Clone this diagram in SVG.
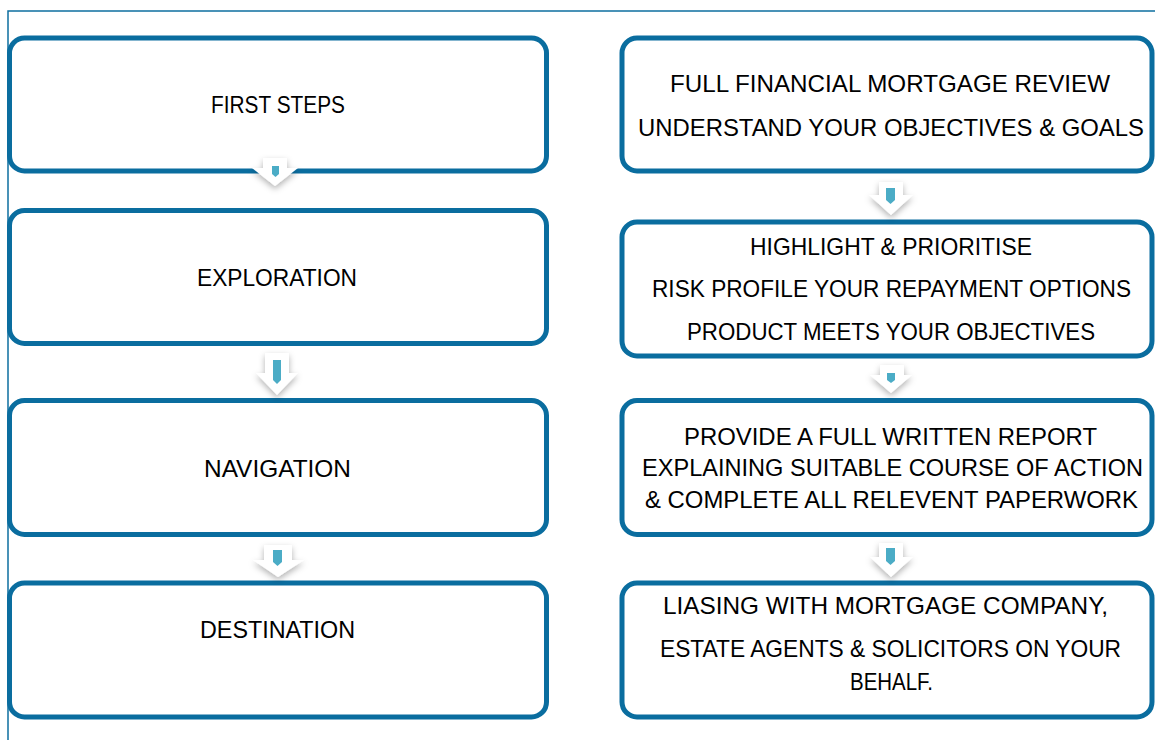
<svg xmlns="http://www.w3.org/2000/svg" width="1155" height="740" viewBox="0 0 1155 740">
  <style>
    .box { fill: #ffffff; stroke: #0a6d9f; stroke-width: 5; }
    .frame { fill: none; stroke: #0e6fa0; stroke-width: 1.5; }
    .lbl { font-family: "Liberation Sans", Arial, sans-serif; font-size: 24px; fill: #000000; text-anchor: middle; }
    .arrow { fill: #ffffff; filter: url(#soft); }
    .mark { fill: #4bacc6; }
  </style>
  <defs>
    <filter id="soft" x="-40%" y="-40%" width="180%" height="180%">
      <feDropShadow dx="0" dy="3" stdDeviation="3" flood-color="#000000" flood-opacity="0.3"/>
    </filter>
  </defs>

  <!-- page frame -->
  <path class="frame" d="M8 740 V11 H1155"/>

  <!-- left column -->
  <g id="first-steps">
    <rect class="box" x="9.5" y="38" width="537" height="133" rx="15"/>
    <text class="lbl" x="278" y="113" textLength="134" lengthAdjust="spacingAndGlyphs">FIRST STEPS</text>
  </g>
  <g id="exploration">
    <rect class="box" x="9.5" y="210.5" width="537" height="133" rx="15"/>
    <text class="lbl" x="277" y="286" textLength="160" lengthAdjust="spacingAndGlyphs">EXPLORATION</text>
  </g>
  <g id="navigation">
    <rect class="box" x="9.5" y="400.5" width="537" height="134" rx="15"/>
    <text class="lbl" x="277.5" y="477" textLength="147" lengthAdjust="spacingAndGlyphs">NAVIGATION</text>
  </g>
  <g id="destination">
    <rect class="box" x="9.5" y="583" width="537" height="134" rx="15"/>
    <text class="lbl" x="277.5" y="638" textLength="155" lengthAdjust="spacingAndGlyphs">DESTINATION</text>
  </g>

  <!-- right column -->
  <g id="review">
    <rect class="box" x="622" y="38" width="530" height="133" rx="15"/>
    <text class="lbl" x="890" y="92" textLength="440" lengthAdjust="spacingAndGlyphs">FULL FINANCIAL MORTGAGE REVIEW</text>
    <text class="lbl" x="891" y="136" textLength="506" lengthAdjust="spacingAndGlyphs">UNDERSTAND YOUR OBJECTIVES &amp; GOALS</text>
  </g>
  <g id="prioritise">
    <rect class="box" x="622" y="222" width="530" height="134" rx="15"/>
    <text class="lbl" x="891" y="255" textLength="282" lengthAdjust="spacingAndGlyphs">HIGHLIGHT &amp; PRIORITISE</text>
    <text class="lbl" x="891.5" y="297" textLength="479" lengthAdjust="spacingAndGlyphs">RISK PROFILE YOUR REPAYMENT OPTIONS</text>
    <text class="lbl" x="891" y="340" textLength="408" lengthAdjust="spacingAndGlyphs">PRODUCT MEETS YOUR OBJECTIVES</text>
  </g>
  <g id="report">
    <rect class="box" x="622" y="400.5" width="530" height="134" rx="15"/>
    <text class="lbl" x="890.5" y="445" textLength="413" lengthAdjust="spacingAndGlyphs">PROVIDE A FULL WRITTEN REPORT</text>
    <text class="lbl" x="892.5" y="476" textLength="501" lengthAdjust="spacingAndGlyphs">EXPLAINING SUITABLE COURSE OF ACTION</text>
    <text class="lbl" x="891.5" y="508" textLength="493" lengthAdjust="spacingAndGlyphs">&amp; COMPLETE ALL RELEVENT PAPERWORK</text>
  </g>
  <g id="liaising">
    <rect class="box" x="622" y="583" width="530" height="134" rx="15"/>
    <text class="lbl" x="885.5" y="614" textLength="445" lengthAdjust="spacingAndGlyphs">LIASING WITH MORTGAGE COMPANY,</text>
    <text class="lbl" x="890.5" y="657" textLength="461" lengthAdjust="spacingAndGlyphs">ESTATE AGENTS &amp; SOLICITORS ON YOUR</text>
    <text class="lbl" x="891.5" y="690" textLength="83" lengthAdjust="spacingAndGlyphs">BEHALF.</text>
  </g>

  <!-- down arrows between steps -->
  <g id="connectors">
    <polygon class="arrow" points="263,158 287,158 287,168 298,168 275,186 252,168 263,168"/>
    <path class="mark" d="M272 166 H279 V174 L275.5 177 L272 174 Z"/>

    <polygon class="arrow" points="265,353 289,353 289,373 298,373 277,395 256,373 265,373"/>
    <path class="mark" d="M273 360 H281 V380 L277 384 L273 380 Z"/>

    <polygon class="arrow" points="264,545 292,545 292,560 304,560 278,577 253,560 264,560"/>
    <path class="mark" d="M273 550 H282 V562 L277.5 566 L273 562 Z"/>

    <polygon class="arrow" points="879,182 903,182 903,195 913,195 891,215 869,195 879,195"/>
    <path class="mark" d="M886 188 H895 V200 L890.5 204 L886 200 Z"/>

    <polygon class="arrow" points="880,365 904,365 904,375 912,375 891,393 870,375 880,375"/>
    <path class="mark" d="M887 373 H895 V380 L891 383 L887 380 Z"/>

    <polygon class="arrow" points="879,543 903,543 903,557 913,557 891,577 870,557 879,557"/>
    <path class="mark" d="M886 548 H895 V561 L890.5 565 L886 561 Z"/>
  </g>
</svg>
